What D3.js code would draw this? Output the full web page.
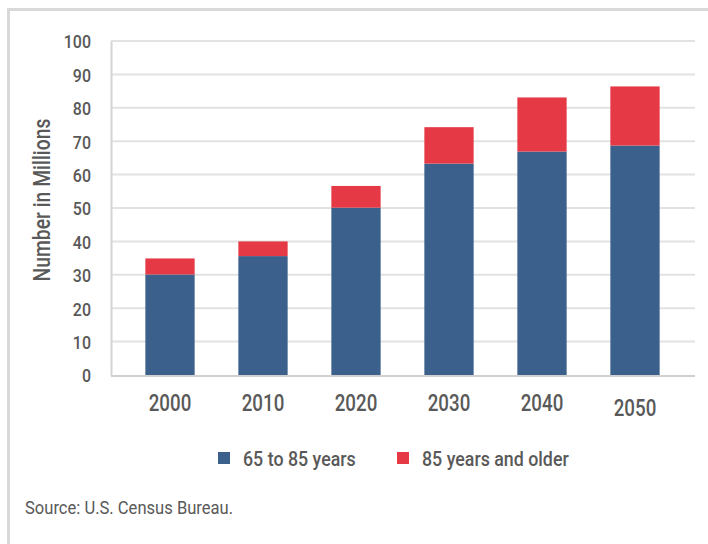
<!DOCTYPE html>
<html lang="en">
<head>
<meta charset="UTF-8">
<title>Older population by age group</title>
<script src="https://d3js.org/d3.v7.min.js"></script>
<style>
    body { margin: 0; background: #fff; }
    text { font-family: Roboto, "Noto Sans", sans-serif; fill: #595959; font-weight: 500; }
</style>
</head>
<body>
<svg width="708" height="544"></svg>
<script>
var years = ["2000", "2010", "2020", "2030", "2040", "2050"];
var age65to85 = [30.1, 35.6, 50.1, 63.3, 66.9, 68.7];
var age85plus = [4.8, 4.4, 6.5, 10.9, 16.2, 17.7];
var seriesNames = ["65 to 85 years", "85 years and older"];
var seriesColors = ["#3b608b", "#e63946"];
var yTicks = [0, 10, 20, 30, 40, 50, 60, 70, 80, 90, 100];

var svg = d3.select("svg");

// the reference uses a condensed face; squeeze Roboto to get close
function condense(sel, f) {
    sel.each(function () {
        var w = this.getComputedTextLength();
        d3.select(this).attr("textLength", w * f).attr("lengthAdjust", "spacingAndGlyphs");
    });
}

// frame round the figure
svg.append("path")
    .attr("d", "M8.5,544V9.5H708")
    .attr("fill", "none")
    .attr("stroke", "#d9d9d9")
    .attr("stroke-width", 3);

var plotLeft = 111, plotRight = 695, plotTop = 41, plotBottom = 375;

var x = d3.scaleBand().domain(years).range([123.5, 681.5])
    .paddingInner(0.47).paddingOuter(0.235);
var y = d3.scaleLinear().domain([0, 100]).range([plotBottom, plotTop]);

// gridlines
svg.append("g")
    .selectAll("line")
    .data(yTicks.slice(1))
    .enter().append("line")
    .attr("x1", plotLeft).attr("x2", plotRight)
    .attr("y1", function (d) { return y(d); })
    .attr("y2", function (d) { return y(d); })
    .attr("stroke", "#e2e2e2")
    .attr("stroke-width", 2);

// y axis
var yAxis = svg.append("g")
    .attr("transform", "translate(" + plotLeft + ",0)")
    .call(d3.axisLeft(y).tickValues(yTicks).tickSize(0).tickPadding(20));
yAxis.select(".domain").attr("stroke", "#d4d4d4").attr("stroke-width", 2);
yAxis.selectAll("text")
    .attr("font-family", null)
    .attr("fill", "#595959")
    .attr("dy", "0.36em")
    .style("font-size", "19px")
    .call(condense, 0.84);

// stacked bars
var rows = years.map(function (yr, i) {
    return { year: yr, a: age65to85[i], b: age85plus[i] };
});
var stacked = d3.stack().keys(["a", "b"])(rows);

svg.append("g")
    .selectAll("g")
    .data(stacked)
    .enter().append("g")
    .attr("fill", function (d, i) { return seriesColors[i]; })
    .selectAll("rect")
    .data(function (d) { return d; })
    .enter().append("rect")
    .attr("x", function (d) { return x(d.data.year); })
    .attr("y", function (d) { return y(d[1]); })
    .attr("width", x.bandwidth())
    .attr("height", function (d) { return y(d[0]) - y(d[1]); });

// x axis line and year labels
svg.append("line")
    .attr("x1", plotLeft).attr("x2", plotRight)
    .attr("y1", plotBottom + 1).attr("y2", plotBottom + 1)
    .attr("stroke", "#d0d0d0").attr("stroke-width", 2);

svg.append("g")
    .selectAll("text")
    .data(years)
    .enter().append("text")
    .attr("x", function (d) { return x(d) + x.bandwidth() / 2; })
    .attr("y", function (d, i) { return i === 5 ? 415.5 : 411; })
    .attr("text-anchor", "middle")
    .style("font-size", "24px")
    .text(function (d) { return d; })
    .call(condense, 0.78);

// axis title
svg.append("text")
    .attr("transform", "translate(50,200) rotate(-90)")
    .attr("text-anchor", "middle")
    .style("font-size", "23px")
    .text("Number in Millions")
    .call(condense, 0.84);

// legend
var legendX = [218, 397];
var legend = svg.append("g")
    .selectAll("g")
    .data(seriesNames)
    .enter().append("g")
    .attr("transform", function (d, i) { return "translate(" + legendX[i] + ",452)"; });
legend.append("rect")
    .attr("width", 12).attr("height", 12)
    .attr("fill", function (d, i) { return seriesColors[i]; });
legend.append("text")
    .attr("x", 25).attr("y", 14)
    .style("font-size", "20px")
    .text(function (d) { return d; })
    .call(condense, 0.89);

// source note
svg.append("text")
    .attr("x", 25).attr("y", 514)
    .style("font-size", "18px")
    .style("font-weight", 400)
    .text("Source: U.S. Census Bureau.")
    .call(condense, 0.92);
</script>
</body>
</html>
